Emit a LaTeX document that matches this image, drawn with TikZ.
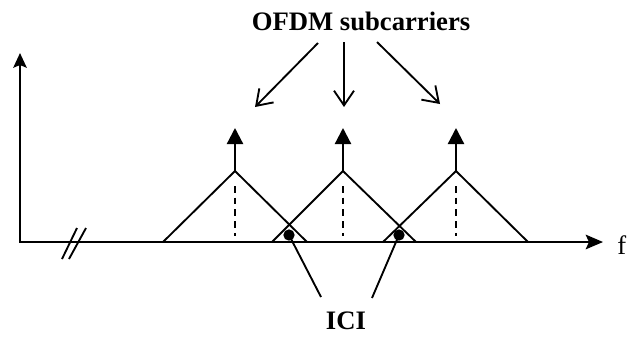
\documentclass[tikz,border=0pt]{standalone}
\usepackage{fontspec}
\setmainfont{Liberation Serif}
\usetikzlibrary{arrows.meta}
\begin{document}
\begin{tikzpicture}[x=0.75pt,y=-0.75pt,
  axis/.style={line width=1.4pt},
  thickaxis/.style={line width=1.9pt},
  tri/.style={line width=1.4pt, line join=miter},
  carrier/.style={line width=1.7pt, -{Triangle[length=12pt,width=12pt]}},
  dashline/.style={line width=1.4pt, dash pattern=on 5pt off 3.8pt},
  pointer/.style={line width=1.4pt, -{Straight Barb[length=11pt,width=15pt,line width=1.4pt]}},
  lead/.style={line width=1.4pt},
  label/.style={font=\fontsize{20}{24}\selectfont\bfseries, inner sep=0pt},
  dot/.style={circle, fill=black, inner sep=0pt, minimum size=8.5pt}]
\useasboundingbox (0,0) rectangle (628,337);

% axes
\coordinate (origin) at (20,242);
\coordinate (ytop) at (20,53);
\coordinate (brk) at (68,242);
\coordinate (xend) at (603,242);
\draw[thickaxis, -{Stealth[length=11pt,width=10pt,inset=2pt]}] (brk) -- (origin) -- (ytop);
\draw[axis, -{Stealth[length=13pt,width=11pt,inset=2.5pt]}] (brk) -- (xend);
\node[font=\fontsize{20}{24}\selectfont, anchor=base west, inner sep=0pt] (f) at (617,254) {f};

% axis break marks
\coordinate (b1a) at (62,259); \coordinate (b1b) at (77,228);
\coordinate (b2a) at (69,259); \coordinate (b2b) at (86,228);
\draw[axis] (b1a) -- (b1b);
\draw[axis] (b2a) -- (b2b);

% subcarrier triangles
\foreach \n/\l/\a/\r in {1/163/235/307, 2/272/343/416, 3/383/456/528}{
  \coordinate (L\n) at (\l,242);
  \coordinate (A\n) at (\a,171);
  \coordinate (R\n) at (\r,242);
  \coordinate (T\n) at (\a,128);
  \coordinate (D\n) at (\a,186);
  \coordinate (E\n) at (\a,236);
  \draw[tri] (L\n) -- (A\n) -- (R\n);
  \draw[carrier] (A\n) -- (T\n);
  \draw[dashline] (D\n) -- (E\n);
}

% ICI points
\node[dot] (d1) at (289,235) {};
\node[dot] (d2) at (399,235) {};
\node[label] (ici) at (346,321) {ICI};
\coordinate (i1) at (321,297);
\coordinate (i2) at (372,298);
\draw[lead] (d1.center) -- (i1);
\draw[lead] (d2.center) -- (i2);

% title and pointers
\node[label] (title) at (361,21) {OFDM subcarriers};
\coordinate (s1) at (318,43); \coordinate (e1) at (255,107);
\coordinate (s2) at (344,42); \coordinate (e2) at (344,107);
\coordinate (s3) at (377,42); \coordinate (e3) at (440,104);
\draw[pointer] (s1) -- (e1);
\draw[pointer] (s2) -- (e2);
\draw[pointer] (s3) -- (e3);
\end{tikzpicture}
\end{document}
